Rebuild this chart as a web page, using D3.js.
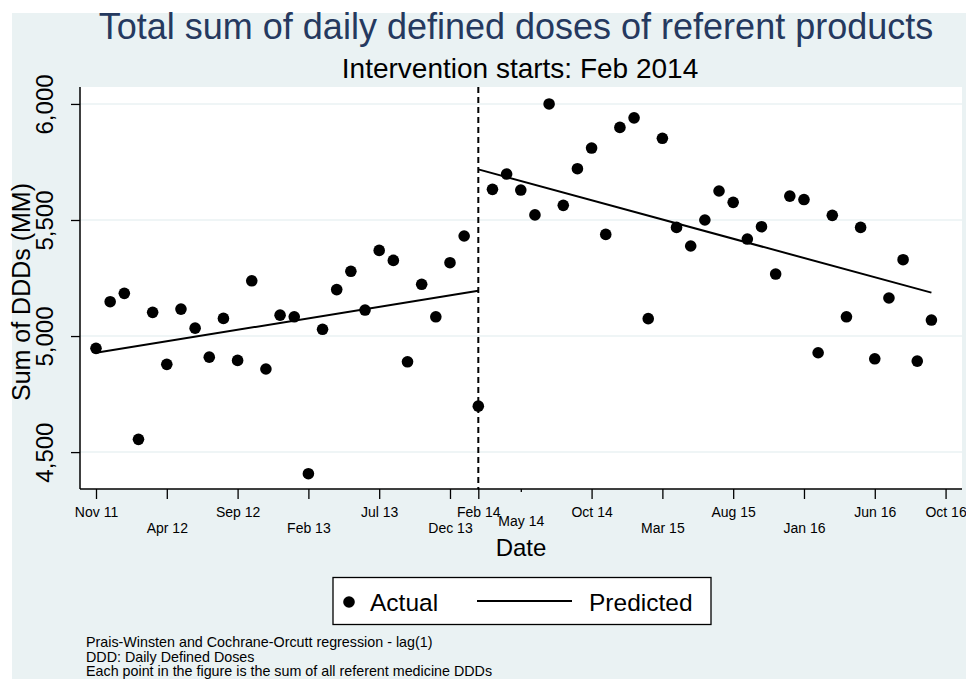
<!DOCTYPE html>
<html>
<head>
<meta charset="utf-8">
<script src="https://cdn.jsdelivr.net/npm/d3@7"></script>
<style>
  body { margin: 0; background: #fff; }
  svg text { font-family: Arial, "Liberation Sans", sans-serif; }
</style>
</head>
<body>
<div id="chart"></div>
<script>
// monthly sums of DDDs (MM), Nov 2011 .. Feb 2014 (before intervention)
var preValues = [4947, 5148, 5184, 4555, 5102, 4878, 5116, 5034, 4909, 5076,
                 4895, 5238, 4858, 5090, 5083, 4407, 5029, 5200, 5279, 5112,
                 5369, 5326, 4889, 5223, 5083, 5316, 5431, 4698];

// Mar 2014 .. Oct 2016 (after intervention)
var postValues = [5632, 5698, 5629, 5522, 6000, 5563, 5721, 5810, 5438, 5899,
                  5940, 5075, 5852, 5468, 5388, 5500, 5625, 5576, 5418, 5471,
                  5267, 5603, 5588, 4928, 5520, 5083, 5468, 4902, 5164, 5329,
                  4892, 5069];

// fitted segments: [month index, value]
var predPre = [[0, 4928], [27, 5195]];
var predPost = [[27, 5718], [59, 5187]];

// x ticks (month index since Nov 2011) and their labels
var tickMonths = [0, 5, 10, 15, 20, 25, 27, 30, 35, 40, 45, 50, 55, 60];
var tickLabels = ["Nov 11", "Apr 12", "Sep 12", "Feb 13", "Jul 13", "Dec 13", "Feb 14",
                  "May 14", "Oct 14", "Mar 15", "Aug 15", "Jan 16", "Jun 16", "Oct 16"];
var yTicks = [4500, 5000, 5500, 6000];

var interventionMonth = 27;
var lowLabels = ["Apr 12", "Feb 13", "Dec 13", "Mar 15", "Jan 16"];

var width = 966, height = 679;
var plot = {left: 80, right: 962, top: 87, bottom: 489};

var svg = d3.select("#chart")
            .append("svg")
            .attr("width", width)
            .attr("height", height);

// graph region background
svg.append("rect")
    .attr("x", 12).attr("y", 13)
    .attr("width", width - 12).attr("height", height - 13)
    .attr("fill", "#eaf2f3");

// plot region
svg.append("rect")
    .attr("x", plot.left).attr("y", plot.top)
    .attr("width", plot.right - plot.left).attr("height", plot.bottom - plot.top)
    .attr("fill", "#fff");

var x = d3.scaleLinear().domain([-1.13, 61.16]).range([plot.left, plot.right]);
var y = d3.scaleLinear().domain([4341, 6073]).range([plot.bottom, plot.top]);

// grid lines
svg.append("g")
    .selectAll("line")
    .data(yTicks)
    .enter()
    .append("line")
    .attr("x1", plot.left).attr("x2", plot.right)
    .attr("y1", d => y(d)).attr("y2", d => y(d))
    .attr("stroke", "#eaf2f3")
    .attr("stroke-width", 1.5);

// y axis
var yAxis = svg.append("g")
    .attr("transform", "translate(" + plot.left + ",0)")
    .call(d3.axisLeft(y).tickValues(yTicks).tickSize(9).tickFormat(d3.format(",")));
yAxis.select(".domain").attr("d", "M0," + plot.top + "V" + plot.bottom).attr("stroke", "#000").attr("stroke-width", 1.5);
yAxis.selectAll(".tick line").attr("stroke", "#000").attr("stroke-width", 1.3);
yAxis.selectAll(".tick text")
    .attr("font-size", 24)
    .attr("fill", "#000")
    .attr("text-anchor", "middle")
    .attr("x", null).attr("dy", null)
    .attr("transform", "translate(-27,0) rotate(-90)");

// x axis
var xAxis = svg.append("g")
    .attr("transform", "translate(0," + plot.bottom + ")")
    .call(d3.axisBottom(x).tickValues(tickMonths).tickSize(10)
            .tickFormat((d, i) => tickLabels[i]));
xAxis.select(".domain").attr("d", "M" + plot.left + ",0H" + plot.right).attr("stroke", "#000").attr("stroke-width", 1.5);
xAxis.selectAll(".tick line")
    .attr("stroke", "#000").attr("stroke-width", 1.3)
    .attr("y2", (d, i) => tickLabels[i] === "May 14" ? 3 : 10);
xAxis.selectAll(".tick text")
    .attr("font-size", 14)
    .attr("fill", "#000")
    .attr("dy", null)
    .attr("y", (d, i) => {
        if (tickLabels[i] === "May 14") return 37;
        return lowLabels.indexOf(tickLabels[i]) >= 0 ? 44 : 28;
    });

// intervention line
svg.append("line")
    .attr("x1", x(interventionMonth)).attr("x2", x(interventionMonth))
    .attr("y1", plot.top).attr("y2", plot.bottom)
    .attr("stroke", "#000")
    .attr("stroke-width", 2)
    .attr("stroke-dasharray", "6,4");

// predicted lines
var line = d3.line().x(d => x(d[0])).y(d => y(d[1]));
[predPre, predPost].forEach(function(seg) {
    svg.append("path")
        .datum(seg)
        .attr("d", line)
        .attr("fill", "none")
        .attr("stroke", "#000")
        .attr("stroke-width", 2);
});

// actual points
var points = preValues.map((v, i) => ({m: i, v: v}))
    .concat(postValues.map((v, i) => ({m: preValues.length + i, v: v})));
svg.append("g")
    .selectAll("circle")
    .data(points)
    .enter()
    .append("circle")
    .attr("cx", d => x(d.m))
    .attr("cy", d => y(d.v))
    .attr("r", 5.8)
    .attr("fill", "#000");

// titles
svg.append("text")
    .attr("x", 516).attr("y", 39)
    .attr("text-anchor", "middle")
    .attr("font-size", 36)
    .attr("fill", "#25395f")
    .text("Total sum of daily defined doses of referent products");

svg.append("text")
    .attr("x", 520).attr("y", 78)
    .attr("text-anchor", "middle")
    .attr("font-size", 28)
    .attr("fill", "#000")
    .text("Intervention starts: Feb 2014");

svg.append("text")
    .attr("x", 521).attr("y", 556)
    .attr("text-anchor", "middle")
    .attr("font-size", 24)
    .attr("fill", "#000")
    .text("Date");

svg.append("text")
    .attr("transform", "translate(30,292) rotate(-90)")
    .attr("text-anchor", "middle")
    .attr("font-size", 25)
    .attr("fill", "#000")
    .text("Sum of DDDs (MM)");

// legend
var legend = svg.append("g");
legend.append("rect")
    .attr("x", 333).attr("y", 577.5)
    .attr("width", 378).attr("height", 47)
    .attr("fill", "#fff")
    .attr("stroke", "#000")
    .attr("stroke-width", 1.3);
legend.append("circle")
    .attr("cx", 349).attr("cy", 602).attr("r", 5.8).attr("fill", "#000");
legend.append("text")
    .attr("x", 370).attr("y", 611)
    .attr("font-size", 24.5)
    .text("Actual");
legend.append("line")
    .attr("x1", 477).attr("x2", 572)
    .attr("y1", 601).attr("y2", 601)
    .attr("stroke", "#000").attr("stroke-width", 2);
legend.append("text")
    .attr("x", 589).attr("y", 611)
    .attr("font-size", 24.5)
    .text("Predicted");

// notes
var notes = ["Prais-Winsten and Cochrane-Orcutt regression - lag(1)",
             "DDD: Daily Defined Doses",
             "Each point in the figure is the sum of all referent medicine DDDs"];
svg.append("g")
    .selectAll("text")
    .data(notes)
    .enter()
    .append("text")
    .attr("x", 86)
    .attr("y", (d, i) => 647 + i * 14.5)
    .attr("font-size", 14.3)
    .text(d => d);
</script>
</body>
</html>
